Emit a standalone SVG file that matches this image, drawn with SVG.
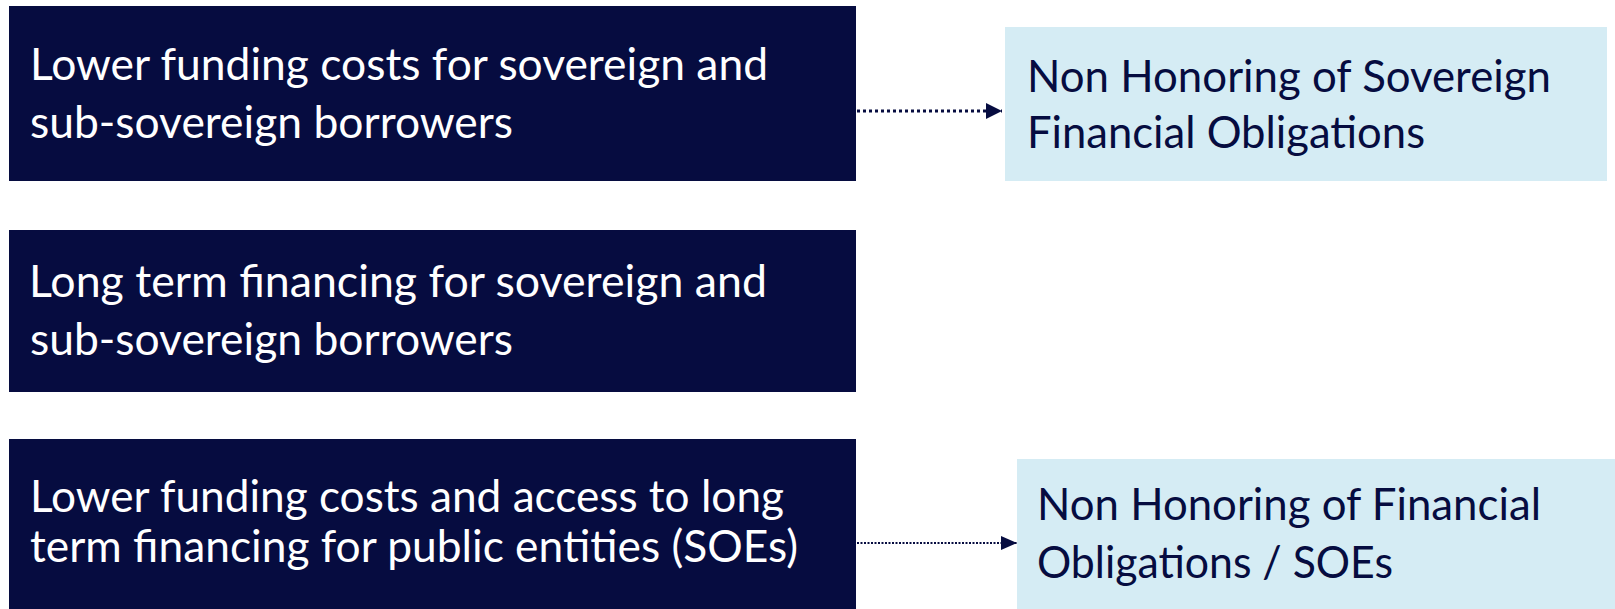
<svg xmlns="http://www.w3.org/2000/svg" width="1615" height="609" viewBox="0 0 1615 609">
<style>
.dark{fill:#060C40}
.light{fill:#D5ECF4}
.t{font-family:Lato,"Open Sans","Liberation Sans",sans-serif;font-size:44px}
.tw{fill:#FFFFFF}
.td{fill:#060C40}
.conn{stroke:#060C40;fill:none}
</style>
<defs>
<marker id="ah" markerUnits="userSpaceOnUse" markerWidth="16" markerHeight="16" refX="16" refY="8" orient="auto">
<path d="M0,0 L16,8 L0,16 Z" fill="#060C40"/>
</marker>
<marker id="ah2" markerUnits="userSpaceOnUse" markerWidth="16" markerHeight="14" refX="16" refY="7" orient="auto">
<path d="M0,0 L16,7 L0,14 Z" fill="#060C40"/>
</marker>
</defs>
<rect width="1615" height="609" fill="#FFFFFF"/>
<g id="node-lower-funding">
<rect class="dark" x="9" y="6" width="847" height="175"/>
<text class="t tw" x="30" y="80" textLength="738" lengthAdjust="spacingAndGlyphs">Lower funding costs for sovereign and</text>
<text class="t tw" x="30" y="138" textLength="483" lengthAdjust="spacingAndGlyphs">sub-sovereign borrowers</text>
</g>
<g id="node-long-term">
<rect class="dark" x="9" y="230" width="847" height="162"/>
<text class="t tw" x="29" y="297" textLength="738" lengthAdjust="spacingAndGlyphs">Long term financing for sovereign and</text>
<text class="t tw" x="30" y="355" textLength="483" lengthAdjust="spacingAndGlyphs">sub-sovereign borrowers</text>
</g>
<g id="node-soe-financing">
<rect class="dark" x="9" y="439" width="847" height="170"/>
<text class="t tw" x="30" y="512" textLength="754" lengthAdjust="spacingAndGlyphs">Lower funding costs and access to long</text>
<text class="t tw" x="30" y="562" textLength="768" lengthAdjust="spacingAndGlyphs">term financing for public entities (SOEs)</text>
</g>
<g id="node-non-honoring-sovereign">
<rect class="light" x="1005" y="27" width="602" height="154"/>
<text class="t td" x="1027" y="92" textLength="524" lengthAdjust="spacingAndGlyphs">Non Honoring of Sovereign</text>
<text class="t td" x="1027" y="148" textLength="398" lengthAdjust="spacingAndGlyphs">Financial Obligations</text>
</g>
<g id="node-non-honoring-soe">
<rect class="light" x="1017" y="459" width="598" height="150"/>
<text class="t td" x="1037" y="520" textLength="504" lengthAdjust="spacingAndGlyphs">Non Honoring of Financial</text>
<text class="t td" x="1037" y="578" textLength="356" lengthAdjust="spacingAndGlyphs">Obligations / SOEs</text>
</g>
<g id="connectors">
<line class="conn" x1="857" y1="111" x2="1002" y2="111" stroke-width="3" stroke-dasharray="3 3" marker-end="url(#ah)"/>
<line class="conn" x1="857" y1="543" x2="1017" y2="543" stroke-width="2" stroke-dasharray="2 1.5" marker-end="url(#ah2)"/>
</g>
</svg>
